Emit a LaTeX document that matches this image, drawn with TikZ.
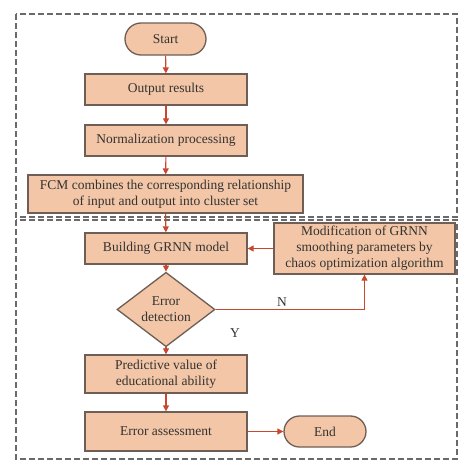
\documentclass[tikz,border=0pt]{standalone}
\usepackage{fontspec}
\setmainfont{Liberation Serif}
\usetikzlibrary{arrows.meta,shapes.geometric,shapes.misc}
\definecolor{boxfill}{HTML}{F2C6A6}
\definecolor{boxline}{HTML}{6E5E55}
\definecolor{arr}{HTML}{C9472D}
\definecolor{dashc}{HTML}{6A6A6A}
\tikzset{
  base/.style={draw=boxline, fill=boxfill, line width=1.3pt, inner sep=1pt, align=center,
    font=\fontsize{13.5}{16}\selectfont, text=black!80},
  procbox/.style={base, rectangle, minimum width=162pt, minimum height=31pt},
  termbox/.style={base, rounded rectangle, minimum width=83pt, minimum height=32pt},
  decbox/.style={base, diamond, minimum width=98pt, minimum height=51pt, inner sep=0pt},
  flow/.style={draw=arr, line width=1.1pt, -{Triangle[width=6pt,length=6pt]}},
  group/.style={draw=dashc, line width=1.3pt, dash pattern=on 6pt off 3pt},
  lbl/.style={font=\fontsize{13.5}{16}\selectfont, text=black!80}
}
\begin{document}
\begin{tikzpicture}[x=1pt,y=-1pt]
\useasboundingbox (0,0) rectangle (474,474);
\draw[group] (16,14) rectangle (457,217);
\draw[group] (16,220) rectangle (457,459);
\node[termbox] (start) at (165.5,39) {Start};
\node[procbox] (out) at (166,89.5) {Output results};
\node[procbox] (norm) at (166,140.5) {Normalization processing};
\node[procbox, minimum width=275pt, minimum height=38pt] (fcm) at (165.5,194) {FCM combines the corresponding relationship\\of input and output into cluster set};
\node[procbox] (build) at (166,248.5) {Building GRNN model};
\node[procbox, minimum width=181pt, minimum height=51pt] (mod) at (364.5,248.5) {Modification of GRNN\\smoothing parameters by\\chaos optimization algorithm};
\node[decbox] (dec) at (166,309.5) {Error\\detection};
\node[procbox, minimum height=38pt] (pred) at (166,374) {Predictive value of\\educational ability};
\node[procbox, minimum height=39pt] (assess) at (166,431.5) {Error assessment};
\node[termbox, minimum width=84pt, minimum height=31pt] (end) at (325,431.5) {End};
\node[lbl] (nlab) at (282,302) {N};
\node[lbl] (ylab) at (235,333) {Y};
\draw[flow] (start) -- (out);
\draw[flow] (out) -- (norm);
\draw[flow] (norm) -- (fcm);
\draw[flow] (fcm) -- (build);
\draw[flow] (build) -- (dec);
\draw[flow] (dec) -- (pred);
\draw[flow] (pred) -- (assess);
\draw[flow] (assess) -- (end);
\draw[flow] (mod.west) -- (build.east);
\draw[flow] (dec.east) -| (mod.south);
\end{tikzpicture}
\end{document}
